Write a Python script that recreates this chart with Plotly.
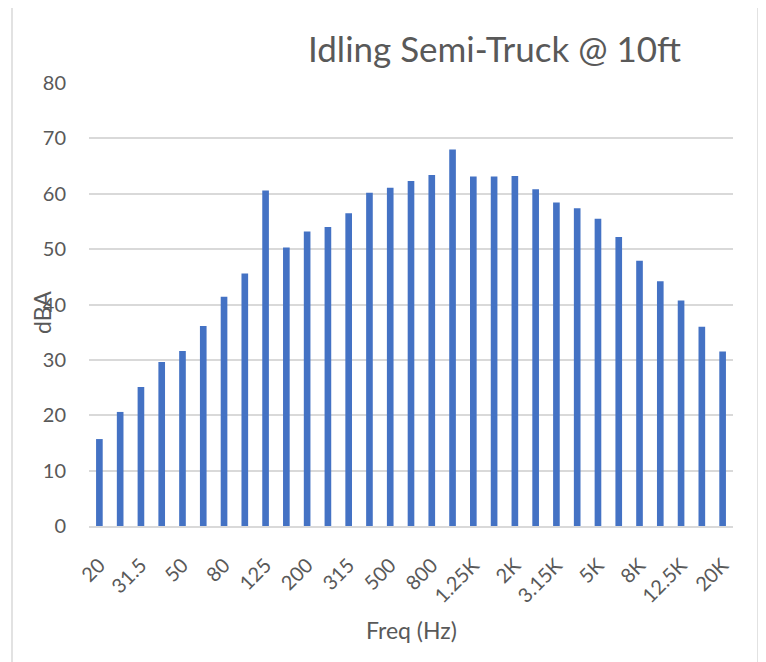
import plotly.graph_objects as go

categories = ["20", "25", "31.5", "40", "50", "63", "80", "100", "125", "160", "200", "250",
              "315", "400", "500", "630", "800", "1K", "1.25K", "1.6K", "2K", "2.5K",
              "3.15K", "4K", "5K", "6.3K", "8K", "10K", "12.5K", "16K", "20K"]
dba = [15.7, 20.6, 25.1, 29.6, 31.6, 36.1, 41.4, 45.6, 60.6, 50.3, 53.2, 54.0,
       56.5, 60.2, 61.1, 62.3, 63.4, 68.0, 63.1, 63.1, 63.2, 60.8,
       58.4, 57.4, 55.5, 52.2, 47.9, 44.2, 40.7, 36.0, 31.5]
tick_labels = categories[::2]

# page offset from browser body margin
OFF = 8
W, H = 766, 662
# plot area in page pixels: x 89..733, y 83..526
L = 89 - OFF
T = 83 - OFF
R = W - (733 - OFF)
B = H - (526 - OFF)
pw, ph = W - L - R, H - T - B


def fx(px):
    return (px - OFF - L) / pw


def fy(py):
    return (H - B - (py - OFF)) / ph


font_fam = "Lato, 'Open Sans', sans-serif"
txt = "#595959"

fig = go.Figure(go.Bar(x=categories, y=dba, marker=dict(color="#4472C4", line=dict(width=0)),
                       hoverinfo="x+y"))

fig.update_layout(
    width=W, height=H,
    margin=dict(l=L, r=R, t=T, b=B, autoexpand=False),
    paper_bgcolor="white", plot_bgcolor="white",
    bargap=0.68,
    showlegend=False,
    font=dict(family=font_fam, color=txt, size=20),
    xaxis=dict(type="category", tickmode="array", tickvals=tick_labels, ticktext=tick_labels,
               tickangle=-45, showgrid=False, showline=True, linecolor="#D9D9D9", linewidth=1.5,
               ticks="", tickfont=dict(size=20, color=txt), ticklabelstandoff=18, automargin=False),
    yaxis=dict(range=[0, 80], dtick=10, showgrid=True, gridcolor="#D9D9D9", gridwidth=1.5,
               zeroline=False, showline=False, ticks="", tickfont=dict(size=20, color=txt),
               ticklabelstandoff=22, automargin=False),
    annotations=[
        dict(text="Idling Semi-Truck @ 10ft", xref="paper", yref="paper",
             x=fx(494), y=fy(48), xanchor="center", yanchor="middle", showarrow=False,
             font=dict(size=35, color=txt, family=font_fam)),
        dict(text="dBA", xref="paper", yref="paper", x=fx(42), y=fy(313),
             xanchor="center", yanchor="middle", textangle=-90, showarrow=False,
             font=dict(size=23, color=txt, family=font_fam)),
        dict(text="Freq (Hz)", xref="paper", yref="paper", x=fx(411), y=fy(630),
             xanchor="center", yanchor="middle", showarrow=False,
             font=dict(size=23, color=txt, family=font_fam)),
    ],
    shapes=[dict(type="rect", xref="paper", yref="paper",
                 x0=fx(12), x1=fx(758), y0=fy(700), y1=fy(5),
                 line=dict(color="#D9D9D9", width=1.5), fillcolor="rgba(0,0,0,0)", layer="below")],
)

fig.write_html("out.html")
